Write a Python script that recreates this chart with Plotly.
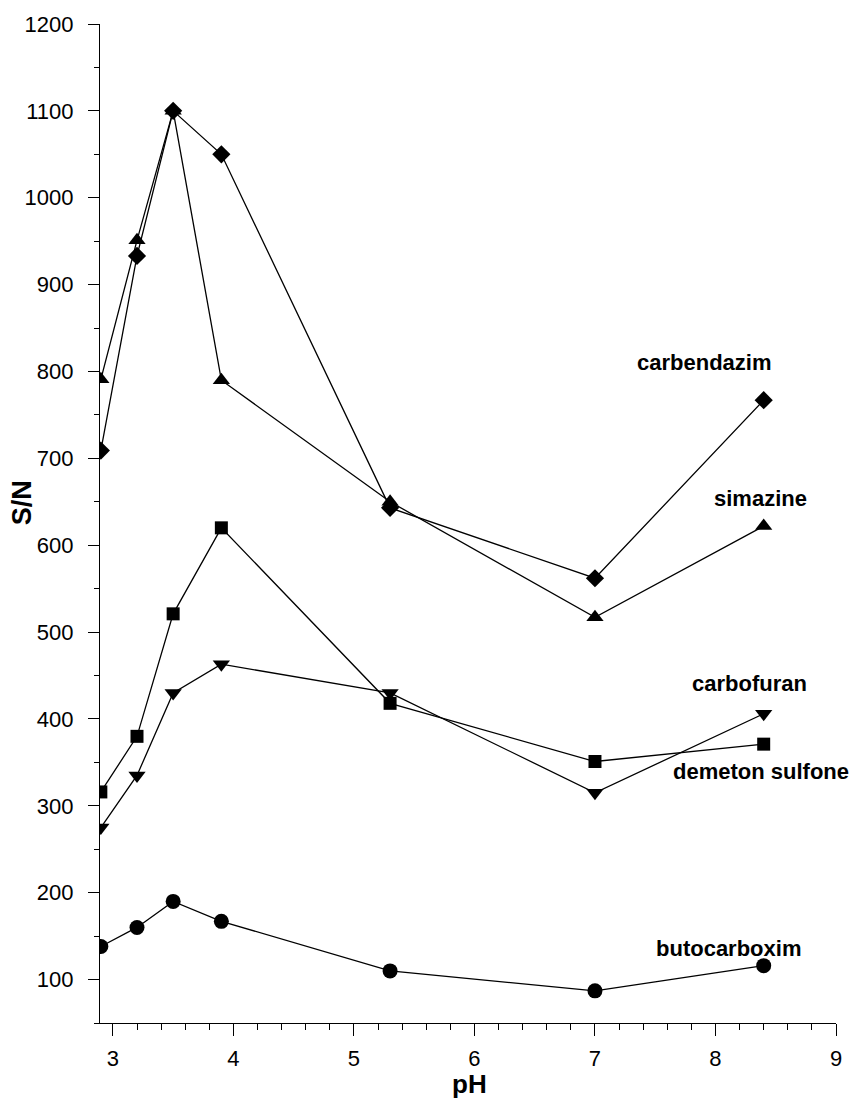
import plotly.graph_objects as go

# pH values of the buffer series
ph = [2.9, 3.2, 3.5, 3.9, 5.3, 7.0, 8.4]

# Signal-to-noise ratio per compound
carbendazim = [709, 933, 1100, 1050, 643, 562, 767]
simazine = [791, 951, 1100, 790, 650, 517, 622]
demeton_sulfone = [316, 380, 521, 620, 418, 351, 371]
carbofuran = [275, 335, 430, 463, 430, 315, 406]
butocarboxim = [138, 160, 190, 167, 110, 87, 116]

series = [
    ("carbendazim", carbendazim, "diamond", 14),
    ("simazine", simazine, "triangle-up", 15),
    ("demeton sulfone", demeton_sulfone, "square", 13),
    ("carbofuran", carbofuran, "triangle-down", 15),
    ("butocarboxim", butocarboxim, "circle", 15),
]

# label anchors (data coordinates) for the compound names
label_pos = {
    "carbendazim": (7.91, 810),
    "simazine": (8.372, 654),
    "carbofuran": (8.281, 441),
    "demeton sulfone": (8.38, 339),
    "butocarboxim": (8.108, 136),
}

FONT = "Liberation Sans, Arial, sans-serif"

fig = go.Figure()
for name, vals, sym, sz in series:
    fig.add_trace(go.Scatter(
        x=ph, y=vals, mode="lines+markers", name=name,
        line=dict(color="black", width=1.3),
        marker=dict(symbol=sym, size=sz, color="black", line=dict(width=0)),
        showlegend=False,
    ))

annotations = []
for name, (lx, ly) in label_pos.items():
    annotations.append(dict(
        x=lx, y=ly, xref="x", yref="y", text="<b>%s</b>" % name,
        showarrow=False, xanchor="center", yanchor="middle",
        font=dict(family=FONT, size=22, color="black"),
    ))

W, H = 854, 1099
L, R, T, B = 100, 15, 24, 76
pw, ph_ = W - L - R, H - T - B

# axis titles placed by pixel position, converted to paper fractions
annotations.append(dict(
    x=(22 - L) / pw, y=1 - (503 - T) / ph_, xref="paper", yref="paper",
    text="<b>S/N</b>", showarrow=False, textangle=-90,
    xanchor="center", yanchor="middle",
    font=dict(family=FONT, size=27, color="black"),
))
annotations.append(dict(
    x=(471 - L) / pw, y=1 - (1084 - T) / ph_, xref="paper", yref="paper",
    text="<b>pH</b>", showarrow=False, xanchor="center", yanchor="middle",
    font=dict(family=FONT, size=26, color="black"),
))

fig.update_layout(
    width=W, height=H,
    margin=dict(l=L, r=R, t=T, b=B),
    paper_bgcolor="white", plot_bgcolor="white",
    annotations=annotations,
    font=dict(family=FONT, color="black"),
)

fig.update_xaxes(
    range=[2.893, 9], dtick=1, tick0=0,
    showgrid=False, zeroline=False,
    showline=True, linecolor="black", linewidth=1.3,
    ticks="outside", ticklen=12, tickwidth=1.3, tickcolor="black",
    minor=dict(dtick=0.2, tick0=0, ticks="outside", ticklen=6, tickwidth=1.1, tickcolor="black"),
    tickfont=dict(family=FONT, size=22, color="black"),
    ticklabelstandoff=3,
)
fig.update_yaxes(
    range=[50, 1200], dtick=100, tick0=0,
    showgrid=False, zeroline=False,
    showline=True, linecolor="black", linewidth=1.3,
    ticks="outside", ticklen=11, tickwidth=1.3, tickcolor="black",
    minor=dict(dtick=50, tick0=0, ticks="outside", ticklen=5, tickwidth=1.1, tickcolor="black"),
    tickfont=dict(family=FONT, size=22, color="black"),
    ticklabelstandoff=10,
)

fig.write_html("out.html")
